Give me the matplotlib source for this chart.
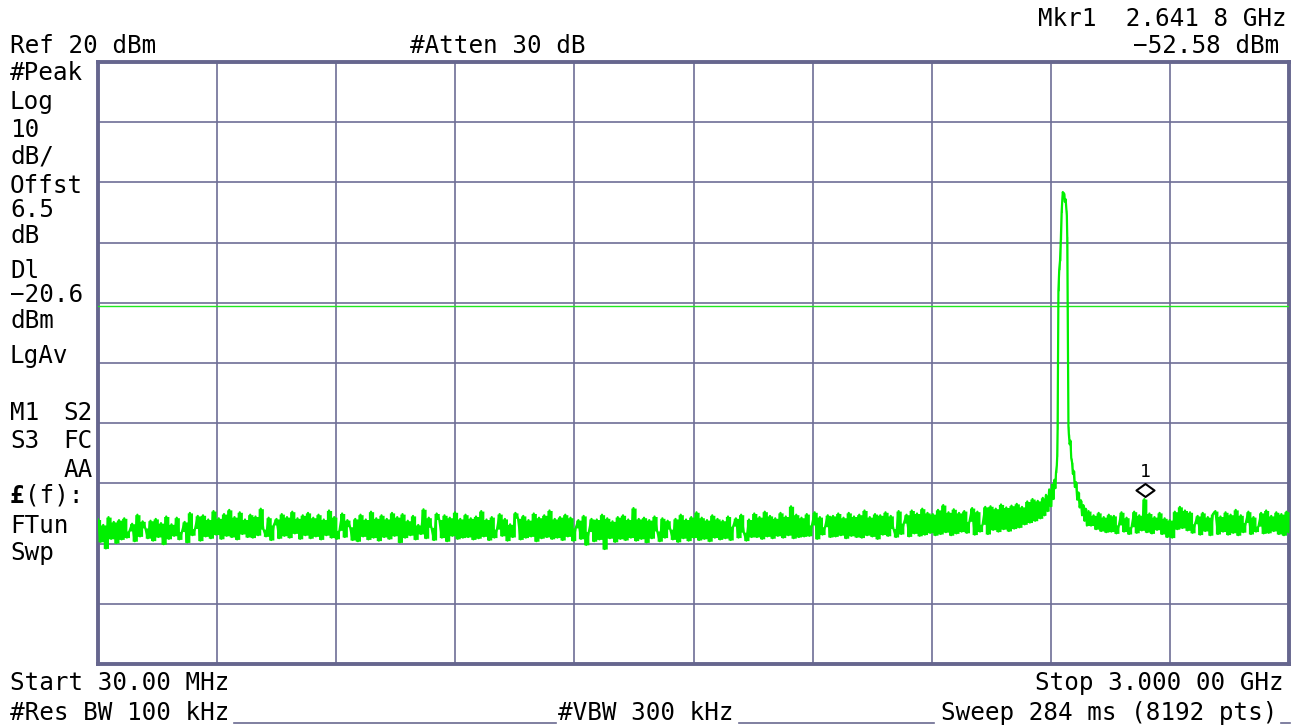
import numpy as np
import matplotlib
matplotlib.use("Agg")
import matplotlib.pyplot as plt
from matplotlib.lines import Line2D
from matplotlib.path import Path
import matplotlib.transforms as mtransforms

# ---------------- data ----------------
start_mhz = 30.0
stop_mhz = 3000.0
ref_dbm = 20.0
db_per_div = 10.0
display_line_dbm = -20.6
marker_freq_mhz = 2641.8
marker_level_dbm = -52.58

# noise floor, 30 MHz .. 2380 MHz (sweep samples, dBm)
left_levels = [
    -56.0,-59.7,-56.9,-60.8,-55.6,-59.2,-56.4,-59.9,-56.1,-59.3,
    -55.8,-59.0,-57.9,-56.7,-59.6,-55.2,-58.8,-56.3,-57.4,-59.1,
    -56.2,-59.5,-55.9,-58.9,-56.6,-60.1,-55.5,-59.2,-56.8,-58.7,
    -55.7,-59.3,-58.0,-56.4,-59.8,-54.9,-58.6,-57.5,-55.4,-59.5,
    -55.3,-58.8,-56.0,-59.1,-54.6,-58.5,-55.8,-59.2,-55.1,-58.7,
    -54.4,-58.9,-55.6,-59.3,-54.8,-58.4,-56.0,-58.9,-55.2,-59.0,
    -55.5,-58.6,-54.2,-57.6,-58.8,-55.7,-59.4,-56.9,-55.9,-59.1,
    -55.1,-58.7,-55.6,-59.0,-54.7,-58.3,-55.8,-59.2,-55.3,-58.6,
    -54.9,-59.1,-55.7,-58.8,-55.2,-59.3,-56.0,-58.6,-54.5,-59.0,
    -55.6,-59.2,-57.8,-55.0,-58.9,-56.1,-57.2,-59.4,-55.9,-59.6,
    -55.2,-58.8,-56.0,-59.3,-54.7,-59.0,-55.8,-59.5,-55.3,-58.9,
    -55.9,-59.2,-54.9,-58.7,-55.6,-59.8,-55.1,-59.0,-56.2,-58.6,
    -55.4,-59.3,-56.9,-58.4,-54.3,-59.1,-55.7,-57.3,-59.4,-55.0,
    -56.0,-59.0,-55.3,-59.6,-55.7,-58.7,-54.8,-59.2,-55.9,-59.0,
    -55.2,-58.9,-55.8,-59.3,-55.5,-59.1,-54.6,-58.8,-56.0,-59.4,
    -55.6,-59.0,-57.6,-55.1,-58.7,-55.9,-59.5,-56.8,-58.9,-54.9,
    -55.8,-59.3,-55.4,-59.0,-56.1,-58.8,-55.0,-59.6,-55.7,-59.1,
    -55.3,-58.9,-54.5,-59.2,-55.9,-59.0,-55.6,-59.4,-55.2,-58.8,
    -55.7,-59.5,-57.4,-56.1,-59.2,-55.4,-60.2,-58.0,-55.9,-59.6,
    -56.0,-59.3,-55.2,-60.9,-55.8,-59.1,-56.3,-59.7,-55.6,-59.2,
    -55.3,-59.4,-56.0,-59.0,-54.1,-59.5,-55.9,-59.2,-55.7,-59.8,
    -56.1,-59.1,-55.5,-57.9,-59.6,-55.8,-59.0,-56.2,-57.6,-59.3,
    -55.9,-59.7,-55.2,-59.1,-56.0,-59.5,-55.6,-59.0,-54.8,-59.4,
    -55.7,-59.2,-56.1,-59.6,-55.3,-59.0,-55.9,-59.3,-56.2,-59.1,
    -55.5,-59.4,-57.1,-55.8,-59.0,-55.2,-58.1,-59.5,-56.0,-58.9,
    -55.0,-58.9,-55.6,-59.2,-54.7,-58.8,-55.4,-59.1,-55.8,-58.7,
    -54.9,-59.0,-55.5,-58.6,-53.8,-59.1,-55.2,-58.9,-55.7,-58.8,
    -55.1,-58.7,-56.9,-54.8,-59.2,-55.6,-58.5,-57.2,-55.3,-58.9,
    -55.4,-58.8,-55.0,-58.6,-55.7,-59.1,-54.9,-58.7,-55.5,-58.9,
    -55.2,-59.0,-54.5,-58.6,-55.6,-58.8,-55.1,-59.2,-55.3,-58.5,
    -54.8,-58.7,-55.4,-57.5,-58.9,-54.6,-58.4,-56.6,-55.2,-58.8,
    -54.5,-58.3,-55.0,-58.7,-54.2,-58.5,-54.9,-58.2,-55.1,-58.6,
    -54.4,-58.4,-53.6,-58.1,-54.8,-58.6,-54.3,-58.3,-54.9,-58.0,
    -54.6,-58.2,-56.3,-54.1,-58.5,-54.7,-58.0,-56.8,-53.9,-58.4,
    -53.8,-57.7,-54.2,-58.0,-53.5,-57.6,-54.0,-57.9,-53.7,-57.5,
    -53.4,-57.3,-53.9,-56.8,-53.0,-56.5,-52.6,-56.2,-52.9,-55.8,
]
left_stop_mhz = 2380.0

# carrier near 2.44 GHz (frequency in MHz, level in dBm)
peak_freq_mhz = [
    2386, 2390, 2394, 2398, 2402, 2406, 2409, 2412, 2415, 2417,
    2419, 2421, 2422, 2423, 2424, 2425, 2427, 2429, 2431, 2433,
    2435, 2436, 2437, 2439, 2441, 2443, 2445, 2446, 2447, 2448,
    2449, 2450, 2451, 2453, 2455, 2457, 2459, 2461, 2463, 2466,
    2469, 2472, 2475, 2478, 2481, 2484, 2487, 2490, 2493, 2496,
]
peak_levels = [
    -52.4, -55.3, -51.9, -54.6, -51.0, -53.8, -50.2, -52.6, -49.4, -50.8,
    -48.2, -47.0, -45.5, -41.0, -30.0, -18.0, -14.5, -13.0, -9.5, -5.0,
    -2.5, -1.6, -2.0, -1.8, -3.2, -2.8, -4.6, -5.5, -9.0, -20.0,
    -33.0, -40.5, -41.8, -43.5, -42.9, -45.8, -46.5, -48.4, -47.9, -50.6,
    -49.8, -52.7, -51.5, -54.0, -52.8, -55.3, -53.6, -56.2, -54.2, -57.0,
]

# noise floor, 2500 MHz .. 3000 MHz
right_start_mhz = 2500.0
right_levels = [
    -54.6,-57.0,-55.3,-57.6,-54.9,-57.9,-55.6,-58.1,-55.2,-58.0,
    -55.4,-58.3,-56.9,-54.8,-58.0,-55.7,-58.4,-57.2,-54.7,-58.2,
    -55.3,-57.8,-52.6,-58.1,-55.0,-58.3,-55.6,-57.7,-54.9,-58.4,
    -55.8,-58.9,-56.1,-59.0,-54.7,-57.6,-53.9,-57.4,-54.5,-57.8,
    -54.8,-58.2,-56.7,-55.4,-58.5,-54.9,-57.9,-55.6,-58.6,-55.1,
    -54.6,-58.4,-55.5,-58.0,-54.8,-58.5,-55.2,-58.2,-54.4,-58.6,
    -55.3,-58.1,-56.5,-54.7,-58.4,-55.6,-58.0,-57.1,-54.9,-58.3,
    -54.5,-58.2,-55.4,-57.9,-54.8,-58.4,-55.1,-58.6,-54.7,-58.1,
]

assert len(peak_freq_mhz) == len(peak_levels)

# ---------------- assemble trace ----------------
left_f = np.linspace(start_mhz, left_stop_mhz, len(left_levels))
right_f = np.linspace(right_start_mhz, stop_mhz, len(right_levels))
pk_f = np.array(peak_freq_mhz, float)
pk_l = np.array(peak_levels, float)
freq = np.concatenate([left_f, pk_f, right_f])
level = np.concatenate([left_levels, pk_l, right_levels])

# ---------------- figure ----------------
W, H = 1306, 727
fig = plt.figure(figsize=(W / 100, H / 100), dpi=100)
fig.patch.set_facecolor("white")

ax_l, ax_r, ax_t, ax_b = 98, 1289, 62, 664
ax = fig.add_axes([ax_l / W, 1 - ax_b / H, (ax_r - ax_l) / W, (ax_b - ax_t) / H])
ax.set_xlim(start_mhz, stop_mhz)
ax.set_ylim(ref_dbm - 10 * db_per_div, ref_dbm)
ax.set_xticks(np.linspace(start_mhz, stop_mhz, 11))
ax.set_yticks(np.arange(ref_dbm - 10 * db_per_div, ref_dbm + 1, db_per_div))
ax.tick_params(length=0, labelbottom=False, labelleft=False)
ax.grid(True, color="#6e6e96", lw=1.2)
for s in ax.spines.values():
    s.set_color("#66668e")
    s.set_linewidth(2.8)
ax.set_axisbelow(True)

ax.axhline(display_line_dbm, color="#1fe81f", lw=1.0, zorder=3)

green = "#00f000"
# the dense 8192-point sweep renders as a solid band: fill the span each
# trace segment covers (min/max of neighbouring samples), then draw the trace
lo = np.minimum(level[:-1], level[1:])
hi = np.maximum(level[:-1], level[1:])
ax.fill_between(np.repeat(freq, 2)[1:-1], np.repeat(lo, 2), np.repeat(hi, 2),
                color=green, lw=0, zorder=4)
ax.plot(freq, level, color=green, lw=1.6, zorder=4)

# marker 1
diamond = Path([(-1, 0), (0, 0.72), (1, 0), (0, -0.72), (-1, 0)],
               [Path.MOVETO, Path.LINETO, Path.LINETO, Path.LINETO, Path.CLOSEPOLY])
off = mtransforms.offset_copy(ax.transData, fig=fig, x=0, y=6.5, units="points")
ax.plot([marker_freq_mhz], [marker_level_dbm], marker=diamond, ms=13,
        mfc="white", mec="black", mew=1.5, transform=off, zorder=6, clip_on=False)
ax.annotate("1", (marker_freq_mhz, marker_level_dbm), xytext=(0, 16),
            textcoords="offset points", ha="center", va="baseline",
            fontsize=13, family="DejaVu Sans Mono", zorder=6)

# ---------------- annotation text ----------------
FONT = "DejaVu Sans Mono"
FS = 17.5


def t(x, y, s, ha="left", **kw):
    fig.text(x / W, 1 - y / H, s, ha=ha, va="baseline", family=FONT,
             fontsize=kw.pop("fontsize", FS), color="black", **kw)


left_lines = [
    ("Ref 20 dBm", 53), ("#Peak", 80), ("Log", 109), ("10", 137),
    ("dB/", 164), ("Offst", 193), ("6.5", 217), ("dB", 243),
    ("Dl", 278), ("\u221220.6", 302), ("dBm", 328), ("LgAv", 363),
    ("M1", 420), ("S3", 448), ("FTun", 533), ("Swp", 560),
]
for s, y in left_lines:
    t(10, y, s)
t(93, 420, "S2", ha="right")
t(93, 448, "FC", ha="right")
t(93, 477, "AA", ha="right")
t(10, 503, "\u00a3", fontweight="bold")
t(25, 503, "(f):")

t(410, 53, "#Atten 30 dB")
t(1287, 26, "Mkr1  2.641 8 GHz", ha="right")
t(1279, 53, "\u221252.58 dBm", ha="right")

t(10, 690, "Start 30.00 MHz")
t(1284, 690, "Stop 3.000 00 GHz", ha="right")
t(10, 720, "#Res BW 100 kHz")
t(558, 720, "#VBW 300 kHz")
t(941, 720, "Sweep 284 ms (8192 pts)")

for x0, x1 in [(234, 556), (739, 934), (1281, 1290)]:
    fig.add_artist(Line2D([x0 / W, x1 / W], [1 - 723 / H, 1 - 723 / H],
                          transform=fig.transFigure, color="#6a6a90", lw=1.2))

fig.savefig("out.png", dpi=100, facecolor="white")
